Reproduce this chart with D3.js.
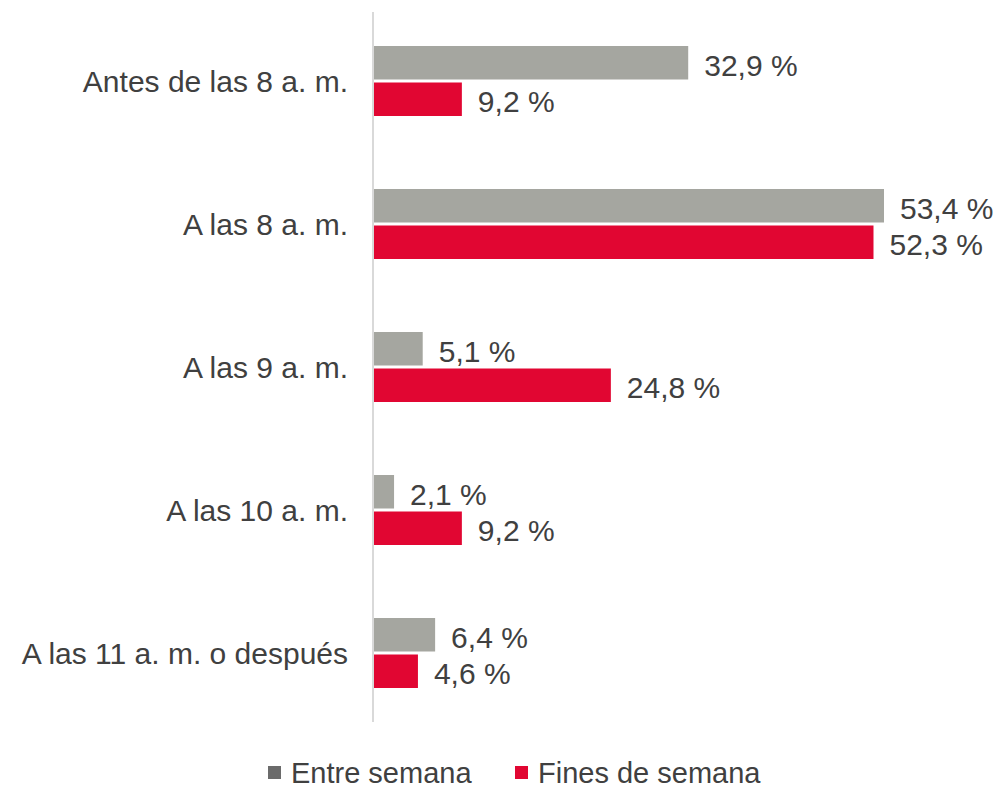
<!DOCTYPE html>
<html>
<head>
<meta charset="utf-8">
<script src="https://cdn.jsdelivr.net/npm/d3@7"></script>
<style>
  html, body { margin: 0; padding: 0; background: #fff; }
  svg { display: block; font-family: "Liberation Sans", Arial, sans-serif; }
</style>
</head>
<body>
<svg id="chart" width="1002" height="790"></svg>
<script>
const categories = ["Antes de las 8 a. m.", "A las 8 a. m.", "A las 9 a. m.", "A las 10 a. m.", "A las 11 a. m. o después"];
const seriesNames = ["Entre semana", "Fines de semana"];
const entreSemana = [32.9, 53.4, 5.1, 2.1, 6.4];
const finesDeSemana = [9.2, 52.3, 24.8, 9.2, 4.6];

const barColors = ["#a5a6a0", "#e10632"];
const legendColors = ["#6b6b6b", "#e10632"];
const textColor = "#404040";
const fs = 30;
const capHalf = fs * 0.36;

const svg = d3.select("#chart");
const plot = { left: 374, top: 12, bottom: 722 };

const x = d3.scaleLinear().domain([0, 53.4]).range([plot.left, 884]);
const y = d3.scaleBand().domain(categories).range([12, 727]).paddingInner(0).paddingOuter(0);
const sub = d3.scaleBand().domain(seriesNames).range([34, 104]).paddingInner(3 / 36.5);

const fmt = v => d3.format(".1f")(v).replace(".", ",") + " %";

// vertical category axis line
svg.append("line")
  .attr("x1", plot.left - 1).attr("x2", plot.left - 1)
  .attr("y1", plot.top).attr("y2", plot.bottom)
  .attr("stroke", "#d9d9d9").attr("stroke-width", 2);

// category labels
svg.append("g").selectAll("text").data(categories).join("text")
  .attr("x", 348)
  .attr("y", d => y(d) + y.bandwidth() / 2 - 2.5 + capHalf)
  .attr("text-anchor", "end")
  .attr("fill", textColor)
  .attr("font-size", fs)
  .attr("textLength", null)
  .text(d => d);

const series = [entreSemana, finesDeSemana];
series.forEach((vals, si) => {
  const g = svg.append("g");
  const rows = categories.map((c, i) => ({ c, v: vals[i] }));
  g.selectAll("rect").data(rows).join("rect")
    .attr("x", x(0))
    .attr("y", d => y(d.c) + sub(seriesNames[si]))
    .attr("width", d => x(d.v) - x(0))
    .attr("height", sub.bandwidth())
    .attr("fill", barColors[si]);
  g.selectAll("text").data(rows).join("text")
    .attr("x", d => x(d.v) + 16)
    .attr("y", d => y(d.c) + sub(seriesNames[si]) + sub.bandwidth() / 2 + 2 + capHalf)
    .attr("fill", textColor)
    .attr("font-size", fs)
    .text(d => fmt(d.v));
});

// legend
const legendItems = [
  { name: seriesNames[0], color: legendColors[0], x: 268 },
  { name: seriesNames[1], color: legendColors[1], x: 515 }
];
const lg = svg.append("g").selectAll("g").data(legendItems).join("g")
  .attr("transform", d => `translate(${d.x},766)`);
lg.append("rect").attr("width", 13).attr("height", 13).attr("fill", d => d.color);
lg.append("text")
  .attr("x", 23).attr("y", 17)
  .attr("fill", textColor).attr("font-size", 29)
  .text(d => d.name);
</script>
</body>
</html>
